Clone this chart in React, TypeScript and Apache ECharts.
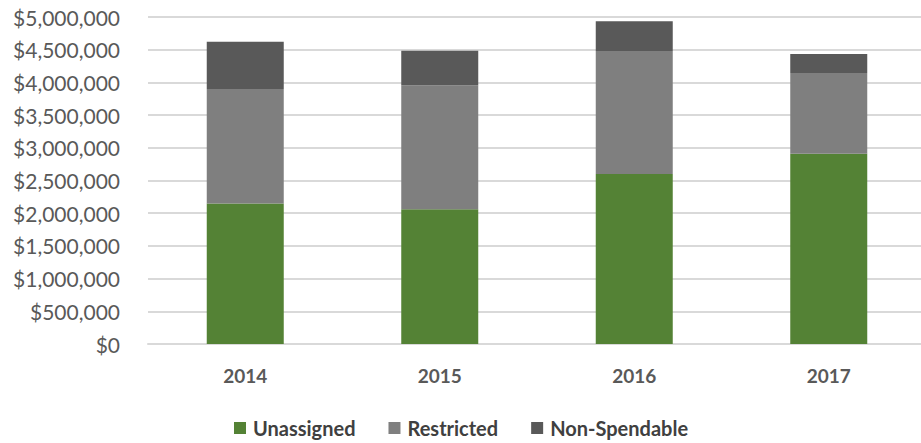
import React, { useEffect, useRef } from "react";
import * as echarts from "echarts";

const years = ["2014", "2015", "2016", "2017"];
const unassigned = [2150000, 2060000, 2600000, 2910000];
const restricted = [1750000, 1895000, 1880000, 1235000];
const nonSpendable = [720000, 530000, 455000, 290000];

const fmt = (v: number) => "$" + v.toLocaleString("en-US");

export default function App() {
  const ref = useRef<HTMLDivElement>(null);
  useEffect(() => {
    if (!ref.current) return;
    const chart = echarts.init(ref.current, null, { renderer: "svg" });
    const font = "Lato, 'Open Sans', sans-serif";
    chart.setOption({
      animation: false,
      backgroundColor: "#ffffff",
      grid: { left: 148, right: 0, top: 17, bottom: 99, containLabel: false },
      legend: {
        bottom: 0,
        left: 229,
        icon: "rect",
        itemWidth: 12,
        itemHeight: 12,
        itemGap: 33,
        textStyle: { color: "#404040", fontSize: 20, fontWeight: "bold", fontFamily: font, padding: [0, 0, 0, 2] },
        data: ["Unassigned", "Restricted", "Non-Spendable"],
      },
      xAxis: {
        type: "category",
        data: years,
        axisLine: { lineStyle: { color: "#d9d9d9", width: 2 } },
        axisTick: { show: false },
        axisLabel: { color: "#595959", fontSize: 19, fontWeight: "bold", fontFamily: font, margin: 22 },
      },
      yAxis: {
        type: "value",
        min: 0,
        max: 5000000,
        interval: 500000,
        axisLine: { show: false },
        axisTick: { show: false },
        splitLine: { lineStyle: { color: "#d9d9d9", width: 2 } },
        axisLabel: { color: "#595959", fontSize: 21, fontFamily: font, margin: 28, formatter: fmt },
      },
      series: [
        { name: "Unassigned", type: "bar", stack: "s", data: unassigned, barWidth: 77, itemStyle: { color: "#548235" } },
        { name: "Restricted", type: "bar", stack: "s", data: restricted, itemStyle: { color: "#7f7f7f" } },
        { name: "Non-Spendable", type: "bar", stack: "s", data: nonSpendable, itemStyle: { color: "#595959" } },
      ],
    });
    return () => chart.dispose();
  }, []);
  return <div ref={ref} style={{ position: "fixed", left: 0, top: 0, width: 926, height: 443 }} />;
}
